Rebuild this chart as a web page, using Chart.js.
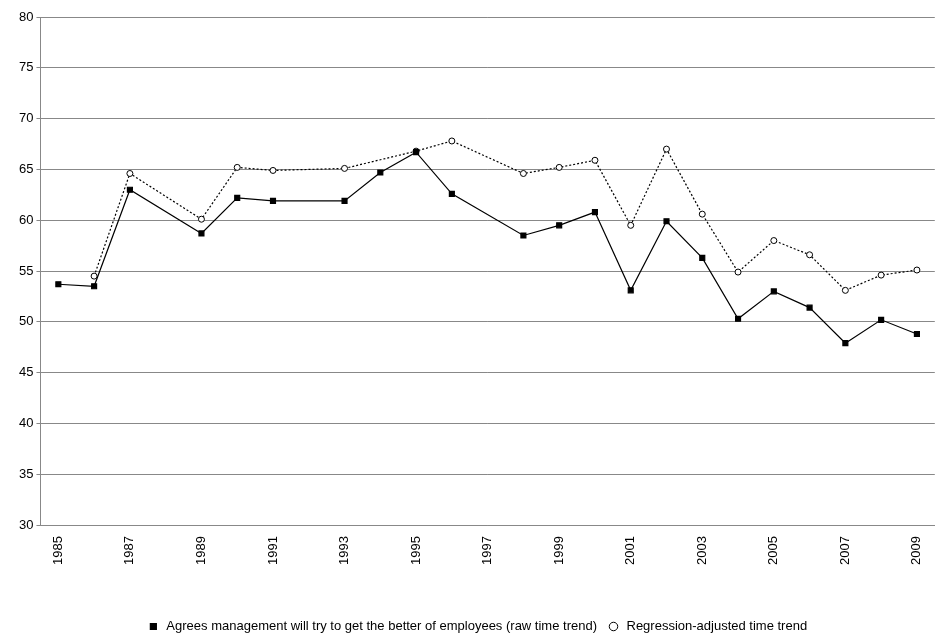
<!DOCTYPE html>
<html><head><meta charset="utf-8">
<script src="https://cdn.jsdelivr.net/npm/chart.js@4"></script>
<style>html,body{margin:0;background:#fff}#w{width:940px;height:643px}</style>
</head><body><div id="w"><canvas id="c"></canvas></div>
<script>
const years = [];
for (let y = 1985; y <= 2009; y++) years.push(String(y));
// null = no survey that year
const rawTrend = [53.7,53.5,63.0,null,58.7,62.2,61.9,null,61.9,64.7,66.7,62.6,null,58.5,59.5,60.8,53.1,59.9,56.3,50.3,53.0,51.4,47.9,50.2,48.8];
const adjTrend = [null,54.5,64.6,null,60.1,65.2,64.9,null,65.1,null,66.8,67.8,null,64.6,65.2,65.9,59.5,67.0,60.6,54.9,58.0,56.6,53.1,54.6,55.1];

Chart.defaults.font.family = '"Liberation Sans", Arial, sans-serif';
Chart.defaults.color = '#000';

new Chart(document.getElementById('c'), {
  type: 'line',
  data: {
    labels: years,
    datasets: [{
      label: 'Agrees management will try to get the better of employees (raw time trend)',
      data: rawTrend,
      borderColor: '#000', backgroundColor: '#000', borderWidth: 1.2,
      pointStyle: 'rect', pointRadius: 3.5, spanGaps: true, tension: 0
    }, {
      label: 'Regression-adjusted time trend',
      data: adjTrend,
      borderColor: '#000', backgroundColor: '#fff', borderWidth: 1.2, borderDash: [2, 2],
      pointStyle: 'circle', pointRadius: 3, pointBorderWidth: 1, spanGaps: true, tension: 0
    }]
  },
  options: {
    responsive: true, maintainAspectRatio: false, animation: false,
    layout: { padding: { top: 17, right: 2, bottom: 0, left: 16 } },
    plugins: {
      legend: { position: 'bottom', labels: { usePointStyle: true, boxHeight: 6, font: { size: 13 }, padding: 10 } },
      tooltip: { enabled: false }
    },
    scales: {
      y: {
        min: 30, max: 80,
        ticks: { stepSize: 5, font: { size: 13 } },
        grid: { color: '#888', drawTicks: true, tickLength: 4 },
        border: { color: '#888' }
      },
      x: {
        offset: true,
        afterFit: function(s) { s.height += 42; },
        ticks: { autoSkip: false, maxRotation: 90, minRotation: 90, font: { size: 13 },
          callback: function(v, i) { return i % 2 === 0 ? years[i] : ''; } },
        grid: { display: false },
        border: { color: '#888' }
      }
    }
  }
});
</script></body></html>
